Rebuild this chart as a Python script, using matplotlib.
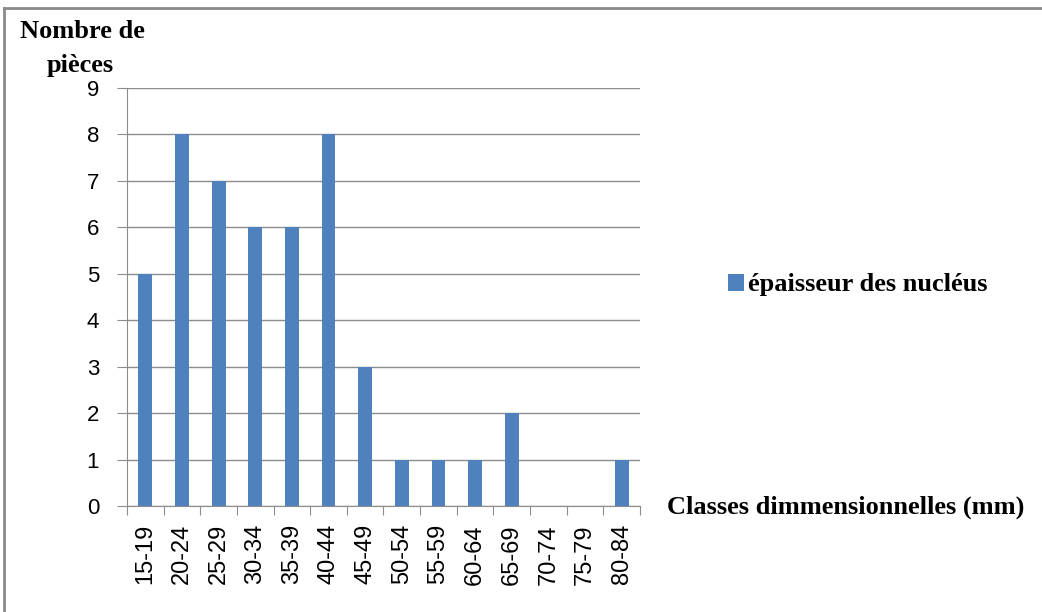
import matplotlib.pyplot as plt
from matplotlib.lines import Line2D

classes = ["15-19", "20-24", "25-29", "30-34", "35-39", "40-44", "45-49",
           "50-54", "55-59", "60-64", "65-69", "70-74", "75-79", "80-84"]
pieces = [5, 8, 7, 6, 6, 8, 3, 1, 1, 1, 2, 0, 0, 1]
serie = "épaisseur des nucléus"

W, H = 1042, 612
fig = plt.figure(figsize=(W / 100, H / 100), dpi=100)

# outer frame (top and left edges visible)
fig.add_artist(Line2D([4 / W, 4 / W], [0, 1 - 8 / H], transform=fig.transFigure, color="#8a8a8a", lw=2))
fig.add_artist(Line2D([4 / W, 1], [1 - 8 / H, 1 - 8 / H], transform=fig.transFigure, color="#8a8a8a", lw=2))

ax = fig.add_axes([127 / W, 1 - 506 / H, (640 - 127) / W, (506 - 88) / H])
x = list(range(len(classes)))
ax.bar(x, pieces, width=0.38, color="#4f81bd", zorder=3, label=serie)
ax.set_xlim(-0.5, len(classes) - 0.5)
ax.set_ylim(0, 9)
ax.set_yticks(range(10))
ax.set_yticklabels([str(i) for i in range(10)], family="Liberation Sans", fontsize=16)
ax.yaxis.grid(True, color="#8c8c8c", lw=1, zorder=0)
ax.set_xticks([i - 0.5 for i in range(len(classes) + 1)])
ax.set_xticklabels([])
ax.set_xticks(x, minor=True)
ax.set_xticklabels(classes, minor=True, rotation=90, family="Liberation Sans", fontsize=17)
ax.tick_params(axis="x", which="minor", length=0, pad=13)
ax.tick_params(axis="x", which="major", length=6.5, color="#8c8c8c")
ax.tick_params(axis="y", length=7, color="#8c8c8c", pad=13)
for s in ["top", "right"]:
    ax.spines[s].set_visible(False)
ax.spines["left"].set_color("#8c8c8c")
ax.spines["bottom"].set_color("#8c8c8c")

bold = dict(family="Liberation Serif", fontweight="bold", fontsize=19)
fig.text(82 / W, 1 - 38 / H, "Nombre de", ha="center", va="baseline", **bold)
fig.text(80 / W, 1 - 72 / H, "pièces", ha="center", va="baseline", **bold)
fig.text(667 / W, 1 - 507 / H, "Classes dimmensionnelles (mm)", ha="left", va="center", **bold)

leg = fig.legend(loc="center left", bbox_to_anchor=(704 / W, 1 - 285 / H), frameon=False,
                 handlelength=0.6, handleheight=0.6, handletextpad=0.15,
                 prop=dict(family="Liberation Serif", weight="bold", size=19))

fig.savefig("out.png", dpi=100)
